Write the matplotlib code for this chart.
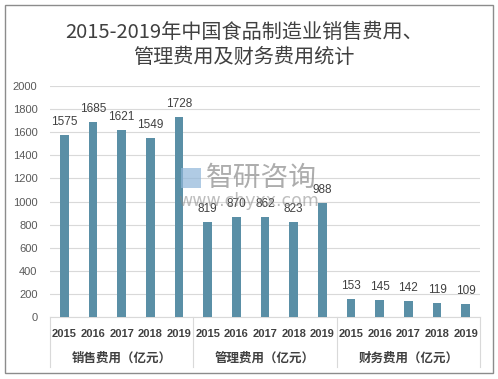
import matplotlib
matplotlib.use("Agg")
import matplotlib.pyplot as plt
from matplotlib.patches import Rectangle
import matplotlib.transforms as mtransforms

plt.rcParams['font.family'] = ['Noto Sans CJK SC', 'DejaVu Sans']

groups = ['销售费用（亿元）', '管理费用（亿元）', '财务费用（亿元）']
years = ['2015', '2016', '2017', '2018', '2019']
sales = [1575, 1685, 1621, 1549, 1728]
admin = [819, 870, 862, 823, 988]
finance = [153, 145, 142, 119, 109]
yticks = [0, 200, 400, 600, 800, 1000, 1200, 1400, 1600, 1800, 2000]
title = '2015-2019年中国食品制造业销售费用、\n管理费用及财务费用统计'

values = sales + admin + finance
labels = years * 3
xs = list(range(len(values)))

NUM = ['Liberation Sans', 'DejaVu Sans']

W, H = 498, 379
fig = plt.figure(figsize=(W / 100, H / 100), dpi=100)
fig.patches.append(Rectangle((5 / W, 6 / H), 488 / W, 368 / H, transform=fig.transFigure,
                             fill=False, edgecolor='#8c8c8c', linewidth=1.0))

ax = fig.add_axes([50 / W, 1 - 317 / H, 430 / W, (317 - 86) / H])
ax.bar(xs, values, width=0.31, color='#5a8fa6', zorder=3)
ax.set_xlim(-0.5, len(values) - 0.5)
ax.set_ylim(0, 2000)
ax.set_yticks(yticks)
ax.set_yticklabels([str(v) for v in yticks], fontsize=8, color='#595959', family=NUM)
ax.tick_params(axis='y', length=0, pad=9)
ax.tick_params(axis='x', length=0)
ax.set_xticks([])
ax.grid(axis='y', color='#d9d9d9', linewidth=0.8, zorder=0)
for s in ['top', 'right', 'left']:
    ax.spines[s].set_visible(False)
ax.spines['bottom'].set_color('#d9d9d9')

for x, v in zip(xs, values):
    ax.annotate(str(v), (x, v), xytext=(0, 5), textcoords='offset points',
                ha='center', va='bottom', fontsize=8.5, color='#404040',
                family=NUM, zorder=5)

trans = mtransforms.blended_transform_factory(ax.transData, ax.transAxes)
for x, lab in zip(xs, labels):
    ax.text(x, -0.072, lab, transform=trans, ha='center', va='center',
            fontsize=8, color='#404040', family=NUM, fontweight='bold')
for gi, g in enumerate(groups):
    ax.text(gi * 5 + 2, -0.178, g, transform=trans, ha='center', va='center',
            fontsize=9, color='#404040', fontweight='bold')
for b in [-0.5, 4.5, 9.5, 14.5]:
    ax.plot([b, b], [0, -0.215], transform=trans, color='#d9d9d9', linewidth=0.8,
            clip_on=False)

# watermark
fig.text(261 / W, 1 - 178 / H, '智研咨询', ha='center', va='center', fontsize=20,
         color='#8a8a8a', alpha=0.7)
fig.text(249 / W, 1 - 201 / H, 'www.chyxx.com', ha='center', va='center', fontsize=12.5,
         color='#8a8a8a', alpha=0.55, family=['DejaVu Sans'])
fig.patches.append(Rectangle((181 / W, 1 - 188 / H), 20 / W, 20 / H, transform=fig.transFigure,
                             facecolor='#8fb6d9', alpha=0.7, edgecolor='none'))

fig.text(0.49, 1 - 45 / H, title, ha='center', va='center', fontsize=14.5,
         color='#404040', linespacing=1.25)

fig.savefig('out.png', dpi=100)
